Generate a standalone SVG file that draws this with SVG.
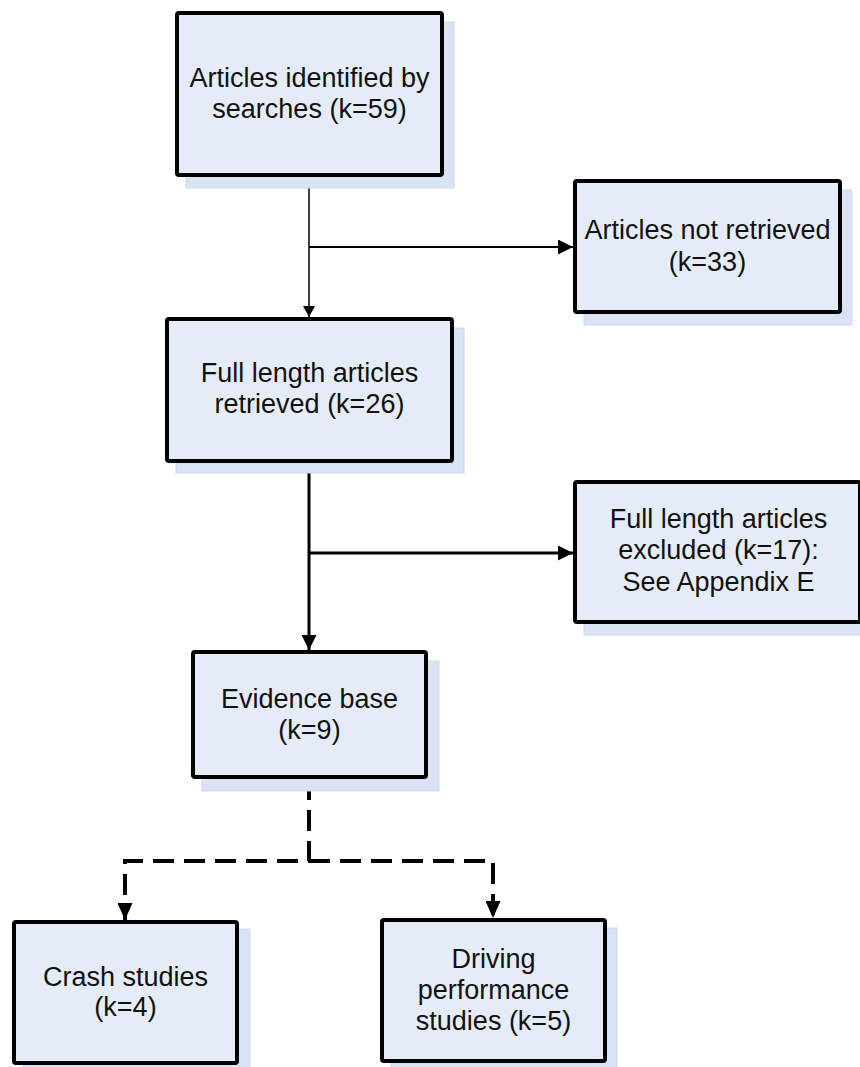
<svg xmlns="http://www.w3.org/2000/svg" width="860" height="1067" viewBox="0 0 860 1067">
<style>
.shadow{fill:#dae3f3;stroke:#ccd9ef;stroke-width:1}
.box{fill:#e6ecf7;stroke:#000;stroke-width:4}
.lbl{font-family:"Liberation Sans",Arial,sans-serif;font-size:27px;fill:#111;text-anchor:middle}
.conn{fill:none;stroke:#000}
</style>
<defs>
<marker id="ah" markerUnits="userSpaceOnUse" viewBox="0 0 15 15" refX="15" refY="7.5" markerWidth="15" markerHeight="15" orient="auto">
<path d="M0,0 L15,7.5 L0,15 z" fill="#000"/>
</marker>
<marker id="ahs" markerUnits="userSpaceOnUse" viewBox="0 0 11 12" refX="11" refY="6" markerWidth="11" markerHeight="12" orient="auto">
<path d="M0,0 L11,6 L0,12 z" fill="#000"/>
</marker>
<marker id="ahd" markerUnits="userSpaceOnUse" viewBox="0 0 17 15" refX="17" refY="7.5" markerWidth="17" markerHeight="15" orient="auto">
<path d="M0,0 L17,7.5 L0,15 z" fill="#000"/>
</marker>
</defs>

<g id="connectors">
<path class="conn" d="M309,177 V317" stroke-width="1.5" marker-end="url(#ahs)"/>
<path class="conn" d="M309,247 H573" stroke-width="2" marker-end="url(#ah)"/>
<path class="conn" d="M309,463 V650" stroke-width="3" marker-end="url(#ah)"/>
<path class="conn" d="M309,553 H573" stroke-width="3" marker-end="url(#ah)"/>
<path class="conn" d="M309,779 V861 H125 V920" stroke-width="4" stroke-dasharray="21 10" marker-end="url(#ahd)"/>
<path class="conn" d="M309,861 H493 V918" stroke-width="4" stroke-dasharray="21 10" marker-end="url(#ahd)"/>
</g>

<g id="n1">
<rect class="shadow" x="186" y="22" width="268" height="166"/>
<rect class="box" x="177" y="13" width="265" height="162" rx="2"/>
<text class="lbl" x="309.5" y="87">Articles identified by</text>
<text class="lbl" x="309.5" y="118">searches (k=59)</text>
</g>

<g id="n2">
<rect class="shadow" x="584" y="190" width="268" height="135"/>
<rect class="box" x="575" y="181" width="265" height="131" rx="2"/>
<text class="lbl" x="707.5" y="239">Articles not retrieved</text>
<text class="lbl" x="707.5" y="271">(k=33)</text>
</g>

<g id="n3">
<rect class="shadow" x="176" y="328" width="288" height="145"/>
<rect class="box" x="167" y="319" width="285" height="142" rx="2"/>
<text class="lbl" x="309.5" y="382">Full length articles</text>
<text class="lbl" x="309.5" y="413">retrieved (k=26)</text>
</g>

<g id="n4">
<rect class="shadow" x="584" y="491" width="288" height="144"/>
<rect class="box" x="575" y="482" width="285" height="140" rx="2"/>
<text class="lbl" x="718.5" y="528">Full length articles</text>
<text class="lbl" x="718.5" y="559">excluded (k=17):</text>
<text class="lbl" x="718.5" y="591">See Appendix E</text>
</g>

<g id="n5">
<rect class="shadow" x="202" y="661" width="237" height="130"/>
<rect class="box" x="193" y="652" width="233" height="125" rx="2"/>
<text class="lbl" x="309.5" y="708">Evidence base</text>
<text class="lbl" x="309.5" y="739">(k=9)</text>
</g>

<g id="n6">
<rect class="shadow" x="23" y="929" width="227" height="145"/>
<rect class="box" x="14" y="922" width="223" height="141" rx="2"/>
<text class="lbl" x="125.5" y="986">Crash studies</text>
<text class="lbl" x="125.5" y="1016">(k=4)</text>
</g>

<g id="n7">
<rect class="shadow" x="391" y="928" width="226" height="145"/>
<rect class="box" x="382" y="920" width="223" height="141" rx="2"/>
<text class="lbl" x="493.5" y="968">Driving</text>
<text class="lbl" x="493.5" y="999">performance</text>
<text class="lbl" x="493.5" y="1030">studies (k=5)</text>
</g>
</svg>
